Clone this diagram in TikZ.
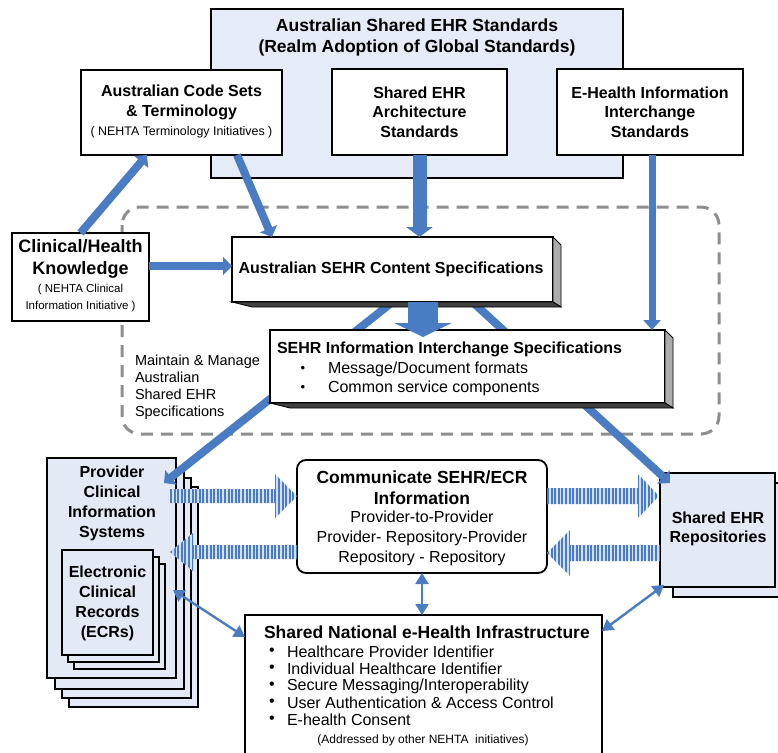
\documentclass[tikz,border=0pt]{standalone}
\usepackage{fontspec}
\setmainfont{Liberation Sans}
\usetikzlibrary{arrows.meta,calc}
\definecolor{ablue}{HTML}{4A7CC4}
\definecolor{lblue}{HTML}{E6ECF7}
\definecolor{pblue}{HTML}{E3E9F5}
\definecolor{dgray}{HTML}{8E8E8E}
\definecolor{sbg}{HTML}{D4E0F2}
\newcommand\fz[2]{\fontsize{#1}{#2}\selectfont}
\newcommand\stripearrow[6]{%
 \begin{scope}
 \clip (#1,#4-#5) -- (#2,#4-#5) -- (#2,#4-#6) -- (#3,#4) -- (#2,#4+#6) -- (#2,#4+#5) -- (#1,#4+#5) -- cycle;
 \fill[sbg] ({min(#1,#3)},#4-30) rectangle ({max(#1,#3)},#4+30);
 \foreach \k in {0,...,40} \draw[ablue, line width=2.1pt] ({min(#1,#3)+1+\k*3.6},#4-30) -- ++(0,60);
 \end{scope}}
\tikzset{
 box/.style={draw=black, line width=1.8pt, fill=white, inner sep=0pt, outer sep=0pt},
 pbox/.style={box, fill=pblue},
 txt/.style={inner sep=0pt, outer sep=0pt, align=center},
 bigarrow/.style={draw=ablue, line width=8pt, -{Triangle[length=9pt,width=18pt]}},
 thinarrow/.style={draw=ablue, line width=2.4pt, {Triangle[length=11pt,width=13pt]}-{Triangle[length=11pt,width=13pt]}},
 sidefc/.style={fill=gray!65, draw=black, line width=0.8pt},
 botfc/.style={fill=black!75, draw=black, line width=0.8pt},
}
\begin{document}
\begin{tikzpicture}[x=1pt,y=-1pt]
\useasboundingbox (0,0) rectangle (778,752);
\clip (0,0) rectangle (778,752);
\fill[white] (0,0) rectangle (778,752);

% dashed maintenance region
\draw[dgray, line width=3pt, dash pattern=on 12pt off 8pt, rounded corners=18pt] (122,207) rectangle (719,434);

% top standards
\node[box, fill=lblue, minimum width=412, minimum height=169] (top) at (417,93.5) {};
\node[txt, font=\fz{17.5}{21}\bfseries] (topt) at (417,37) {Australian Shared EHR Standards\\(Realm Adoption of Global Standards)};
\node[box, minimum width=201, minimum height=85] (code) at (181.5,112.5) {};
\node[txt, font=\fz{16}{19.5}\bfseries] (codet1) at (181.5,102.5) {Australian Code Sets\\\& Terminology};
\node[txt, font=\fz{12.4}{14}] (codet2) at (181.5,132) {( NEHTA Terminology Initiatives )};
\node[box, minimum width=175, minimum height=86] (arch) at (419.5,112) {};
\node[txt, font=\fz{16}{19.5}\bfseries] (archt) at (arch) {Shared EHR\\Architecture\\Standards};
\node[box, minimum width=186, minimum height=86] (ehi) at (650,112) {};
\node[txt, font=\fz{16}{19.5}\bfseries] (ehit) at (ehi) {E-Health Information\\Interchange\\Standards};

% clinical knowledge
\node[box, minimum width=137, minimum height=88] (clin) at (80.5,277) {};
\node[txt, font=\fz{18}{22}\bfseries] (clint1) at (80.5,259) {Clinical/Health\\Knowledge};
\node[txt, font=\fz{11.5}{17}] (clint2) at (80.5,298.5) {( NEHTA Clinical\\Information Initiative )};

% maintain text
\node[txt, align=left, anchor=west, font=\fz{14.5}{17}] (maint) at (135,387.5) {Maintain \& Manage\\Australian\\Shared EHR\\Specifications};

% provider stack
\node[pbox, minimum width=129, minimum height=220] (prov3) at (133.5,597) {};
\node[pbox, minimum width=129, minimum height=220] (prov2) at (126.5,588) {};
\node[pbox, minimum width=129, minimum height=220] (prov1) at (119.5,579) {};
\node[pbox, minimum width=129, minimum height=220] (prov) at (111.5,568) {};
\node[txt, font=\fz{16}{20}\bfseries] (provt) at (112,503) {Provider\\Clinical\\Information\\Systems};
\node[pbox, minimum width=91, minimum height=105] (ecr2) at (119.5,616.5) {};
\node[pbox, minimum width=91, minimum height=105] (ecr1) at (113.5,609.5) {};
\node[pbox, minimum width=91, minimum height=105] (ecr) at (107.5,602.5) {};
\node[txt, font=\fz{16}{20}\bfseries] (ecrt) at (107.5,603) {Electronic\\Clinical\\Records\\(ECRs)};

% repositories
\node[pbox, minimum width=115, minimum height=114] (rep1) at (730.5,540) {};
\node[pbox, minimum width=115, minimum height=114] (rep) at (717.5,530) {};
\node[txt, font=\fz{16}{19}\bfseries] (rept) at (718,529) {Shared EHR\\Repositories};

% communicate
\node[box, rounded corners=9pt, minimum width=250, minimum height=113] (comm) at (422,516.5) {};
\node[txt, font=\fz{17.5}{21}\bfseries] (commt1) at (422,487.5) {Communicate SEHR/ECR\\Information};
\node[txt, font=\fz{16}{20}] (commt2) at (422,538) {Provider-to-Provider\\Provider- Repository-Provider\\Repository - Repository};

% national infrastructure
\node[box, minimum width=357, minimum height=155] (nat) at (423.5,692.5) {};
\node[txt, anchor=west, font=\fz{17.5}{20}\bfseries] (natt) at (264,632) {Shared National e-Health Infrastructure};
\foreach \i/\t [count=\j] in {652/Healthcare Provider Identifier, 669/Individual Healthcare Identifier, 686/Secure Messaging\slash Interoperability, 703/User Authentication \& Access Control, 720/E-health Consent}{
  \node[txt, font=\fz{16}{18}] (natb\j) at (272,\i) {\textbullet};
  \node[txt, anchor=west, font=\fz{16}{18}] (nati\j) at (287,\i) {\t};
}
\node[txt, font=\fz{12}{14}] (nata) at (423,740) {(Addressed by other NEHTA\ \ initiatives)};

% diagonals from content spec (behind interchange box)
\draw[bigarrow] ([shift={(0,0)}]392.5,302) coordinate (cs1) -- ([shift={(-12,25)}]prov.north east);
\draw[bigarrow] (472.5,302) coordinate (cs2) -- ([shift={(10,10)}]rep.north west);

% content spec
\node[box, minimum width=321, minimum height=65] (content) at (392.5,269.5) {};
\node[txt, font=\fz{16}{19}\bfseries] (contentt) at (391,269) {Australian SEHR Content Specifications};
\filldraw[sidefc] (content.north east) -- ++(8,8) -- ([shift={(8,5)}]content.south east) -- (content.south east) -- cycle;
\filldraw[botfc] (content.south west) -- ([shift={(20,5)}]content.south west) -- ([shift={(8,5)}]content.south east) -- (content.south east) -- cycle;

% interchange spec
\node[box, minimum width=395, minimum height=73] (inter) at (467.5,366.5) {};
\filldraw[sidefc] (inter.north east) -- ++(8,8) -- ([shift={(8,5)}]inter.south east) -- (inter.south east) -- cycle;
\filldraw[botfc] (inter.south west) -- ([shift={(20,5)}]inter.south west) -- ([shift={(8,5)}]inter.south east) -- (inter.south east) -- cycle;
\node[txt, anchor=west, font=\fz{16}{19}\bfseries] (intert) at (277,349) {SEHR Information Interchange Specifications};
\node[txt, font=\fz{13}{16}] (interb1) at (303,369) {\textbullet};
\node[txt, font=\fz{13}{16}] (interb2) at (303,388) {\textbullet};
\node[txt, anchor=west, font=\fz{16}{19}] (interi1) at (328,369) {Message/Document formats};
\node[txt, anchor=west, font=\fz{16}{19}] (interi2) at (328,388) {Common service components};

% thick arrows
\draw[bigarrow] (clin.north) -- ([shift={(66,0)}]code.south west);
\draw[bigarrow] ([shift={(156,0)}]code.south west) -- ([shift={(40,0)}]content.north west);
\draw[ablue, line width=14pt, -{Triangle[length=10pt,width=26pt]}] (arch.south) -- (arch.south |- content.north);
\draw[ablue, line width=7pt, -{Triangle[length=10pt,width=17pt]}] ([shift={(2,0)}]ehi.south) -- ++(0,175);
\draw[bigarrow] ([shift={(0,-11)}]clin.east) -- ++(83,0);
\draw[ablue, line width=30pt, -{Triangle[length=14pt,width=57pt]}] ([shift={(30.5,0)}]content.south) -- ([shift={(-44.5,7)}]inter.north);

% striped block arrows
\stripearrow{170}{275}{297}{496}{7}{22}
\stripearrow{297}{193}{170}{552}{7}{19}
\stripearrow{547}{638}{659}{496}{8}{22}
\stripearrow{660}{570}{547}{553}{8}{23}

% thin double arrows
\draw[thinarrow] (comm.south) -- (comm.south |- nat.north);
\draw[thinarrow] ([shift={(-3,132)}]prov.north east) -- ([shift={(0,22)}]nat.north west);
\draw[thinarrow] ([shift={(0,16)}]nat.north east) -- ([shift={(4,-2)}]rep.south west);
\end{tikzpicture}
\end{document}
